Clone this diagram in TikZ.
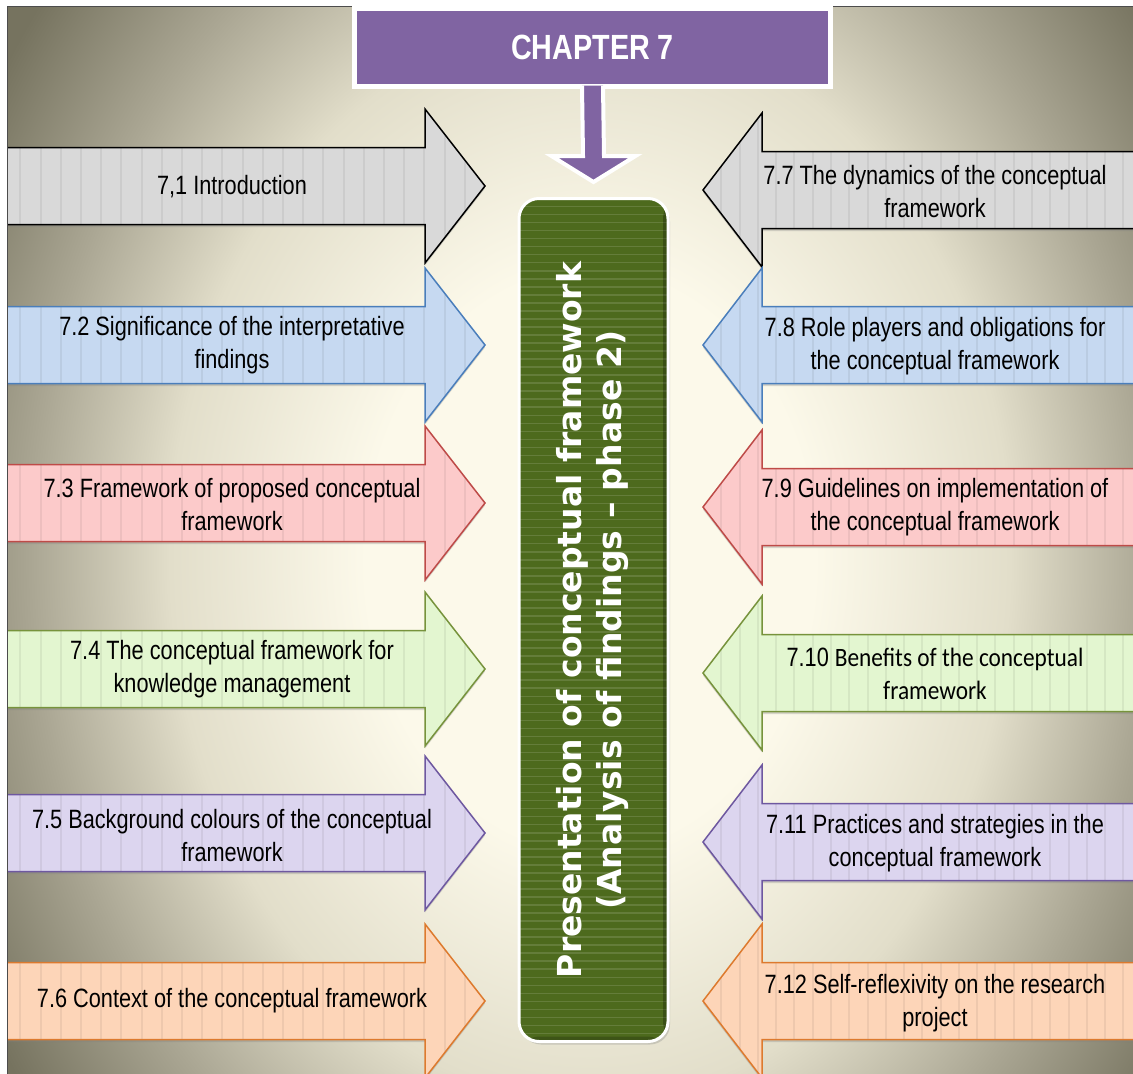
\documentclass[tikz,border=0pt]{standalone}
\usepackage{fontspec}
\usepackage{graphicx}
\setmainfont{Liberation Sans}
\newfontfamily\narrowfont[FakeStretch=0.82]{Liberation Sans}
\newfontfamily\calibrifont[FakeStretch=0.88]{Carlito}
\newfontfamily\verdanafont{DejaVu Sans}
\usetikzlibrary{calc,shadows}

\definecolor{bgcream}{HTML}{FCF9EA}
\definecolor{bglight}{HTML}{E2DECA}
\definecolor{bgmid}{HTML}{AAA693}
\definecolor{bgdark}{HTML}{76735F}
\definecolor{greyfill}{HTML}{D9D9D9}
\definecolor{bluefill}{HTML}{C6D9F1}
\definecolor{blueline}{HTML}{4A7EBB}
\definecolor{redfill}{HTML}{FCCACA}
\definecolor{redline}{HTML}{BE4B48}
\definecolor{greenfill}{HTML}{E3F6D0}
\definecolor{greenline}{HTML}{77933C}
\definecolor{purpfill}{HTML}{DCD5EF}
\definecolor{purpline}{HTML}{6E58A0}
\definecolor{orgfill}{HTML}{FDD5B8}
\definecolor{orgline}{HTML}{DD7A2E}
\definecolor{chappurple}{HTML}{8064A2}
\definecolor{presgreen}{HTML}{4D6A1D}

\pgfdeclareradialshading{bgglow}{\pgfpoint{0bp}{0bp}}{%
  color(0bp)=(bgcream); color(8bp)=(bgcream); color(15bp)=(bglight);
  color(20bp)=(bgmid); color(25bp)=(bgdark); color(50bp)=(bgdark)}

\tikzset{
  striped/.style={path picture={
      \foreach \t in {0,0.04,...,1}
        \draw[black,opacity=.06,line width=2pt]
          ($(path picture bounding box.north west)!\t!(path picture bounding box.north east)$) --
          ($(path picture bounding box.south west)!\t!(path picture bounding box.south east)$);}},
  blk/.style={line width=1.5pt, line join=miter, striped,
    drop shadow={opacity=.3, shadow xshift=0pt, shadow yshift=-2.5pt}},
  greyblk/.style={blk, fill=greyfill, draw=black},
  blueblk/.style={blk, fill=bluefill, draw=blueline},
  redblk/.style={blk, fill=redfill, draw=redline},
  greenblk/.style={blk, fill=greenfill, draw=greenline},
  purpblk/.style={blk, fill=purpfill, draw=purpline},
  orgblk/.style={blk, fill=orgfill, draw=orgline},
  lbl/.style={align=center, inner sep=0pt, text=black,
    font=\narrowfont\fontsize{26.5}{33}\selectfont},
  chapbox/.style={fill=chappurple, draw=white, line width=5pt,
    minimum width=476pt, minimum height=78pt, inner sep=0pt, text=white,
    font=\narrowfont\bfseries\fontsize{35}{40}\selectfont,
    drop shadow={opacity=.3, shadow xshift=2pt, shadow yshift=-3pt}},
  downarrow/.style={fill=chappurple, draw=white, line width=4pt, line join=miter},
  presbox/.style={fill=presgreen, draw=white, line width=3pt, rounded corners=20pt,
    minimum width=149pt, minimum height=843pt, inner sep=0pt, text=white,
    font=\verdanafont\bfseries\fontsize{33}{40}\selectfont,
    drop shadow={opacity=.3, shadow xshift=2pt, shadow yshift=-3pt},
    path picture={
      \foreach \i in {0,...,105}
        \draw[white,opacity=.13,line width=1.5pt]
          ($(path picture bounding box.north west)!\i/105!(path picture bounding box.south west)$) --
          ($(path picture bounding box.north east)!\i/105!(path picture bounding box.south east)$);
      \fill[black,opacity=.25] ($(path picture bounding box.north east)+(-5,0)$)
        rectangle (path picture bounding box.south east);
      \fill[black,opacity=.2] ($(path picture bounding box.south west)+(0,-5)$)
        rectangle (path picture bounding box.south east);}}
}

% arrows pointing to the centre: #1 = centre line, #2 = style
\newcommand\toright[2]{%
  \draw[#2] (-20,#1-38.5) -- (425,#1-38.5) -- (425,#1-77) -- (485,#1)
    -- (425,#1+77) -- (425,#1+38.5) -- (-20,#1+38.5) -- cycle;}
\newcommand\toleft[2]{%
  \draw[#2] (1160,#1-38.5) -- (762,#1-38.5) -- (762,#1-77) -- (703,#1)
    -- (762,#1+77) -- (762,#1+38.5) -- (1160,#1+38.5) -- cycle;}

\begin{document}
\begin{tikzpicture}[x=1pt,y=-1pt]
  \useasboundingbox (0,0) rectangle (1133,1074);
  \fill[white] (0,0) rectangle (1133,1074);

  \begin{scope}
    \clip (7,6) rectangle (1133,1074);
    \fill[bgdark] (7,6) rectangle (1133,1074);
    \shade[shading=bgglow] (590,560) ellipse [x radius=700, y radius=900];

    % left column
    \toright{186}{greyblk}
    \toright{345}{blueblk}
    \toright{503}{redblk}
    \toright{669}{greenblk}
    \toright{833}{purpblk}
    \toright{1001}{orgblk}
    % right column
    \toleft{190}{greyblk}
    \toleft{345}{blueblk}
    \toleft{507}{redblk}
    \toleft{673}{greenblk}
    \toleft{842}{purpblk}
    \toleft{1001}{orgblk}
  \end{scope}
  \draw[gray!60!black, line width=1pt] (7,1074) -- (7,6) -- (1133,6);

  \node[lbl] (intro) at (232,187) {7,1 Introduction};
  \node[lbl] (signif) at (232,345) {7.2 Significance of the interpretative\\findings};
  \node[lbl] (propfw) at (232,505) {7.3 Framework of proposed conceptual\\framework};
  \node[lbl] (kmfw) at (232,669) {7.4 The conceptual framework for\\knowledge management};
  \node[lbl] (colours) at (232,836) {7.5 Background colours of the conceptual\\framework};
  \node[lbl] (context) at (232,1001) {7.6 Context of the conceptual framework};

  \node[lbl] (dynamics) at (935,192) {7.7 The dynamics of the conceptual\\framework};
  \node[lbl] (roles) at (935,346) {7.8 Role players and obligations for\\the conceptual framework};
  \node[lbl] (guide) at (935,507) {7.9 Guidelines on implementation of\\the conceptual framework};
  \node[lbl] (benefits) at (935,674) {7.10 {\calibrifont Benefits of the conceptual}\\{\calibrifont framework}};
  \node[lbl] (practice) at (935,843) {7.11 Practices and strategies in the\\conceptual framework};
  \node[lbl] (reflex) at (935,1003) {7.12 Self-reflexivity on the research\\project};

  \node[chapbox] (chap) at (592.5,47) {CHAPTER 7};
  \node[presbox] (pres) at (593.5,620) {\rotatebox{90}{\begin{tabular}{@{}c@{}}Presentation of conceptual framework\\(Analysis of findings – phase 2)\end{tabular}}};

  \draw[downarrow] ($(chap.south)+(-10.5,-3)$) -- ($(pres.north)+(-10.5,-41)$)
    -- ++(-31.5,0) -- ($(pres.north)+(0,-15)$) -- ($(pres.north)+(42,-41)$)
    -- ++(-31.5,0) -- ($(chap.south)+(10.5,-3)$);
\end{tikzpicture}
\end{document}
